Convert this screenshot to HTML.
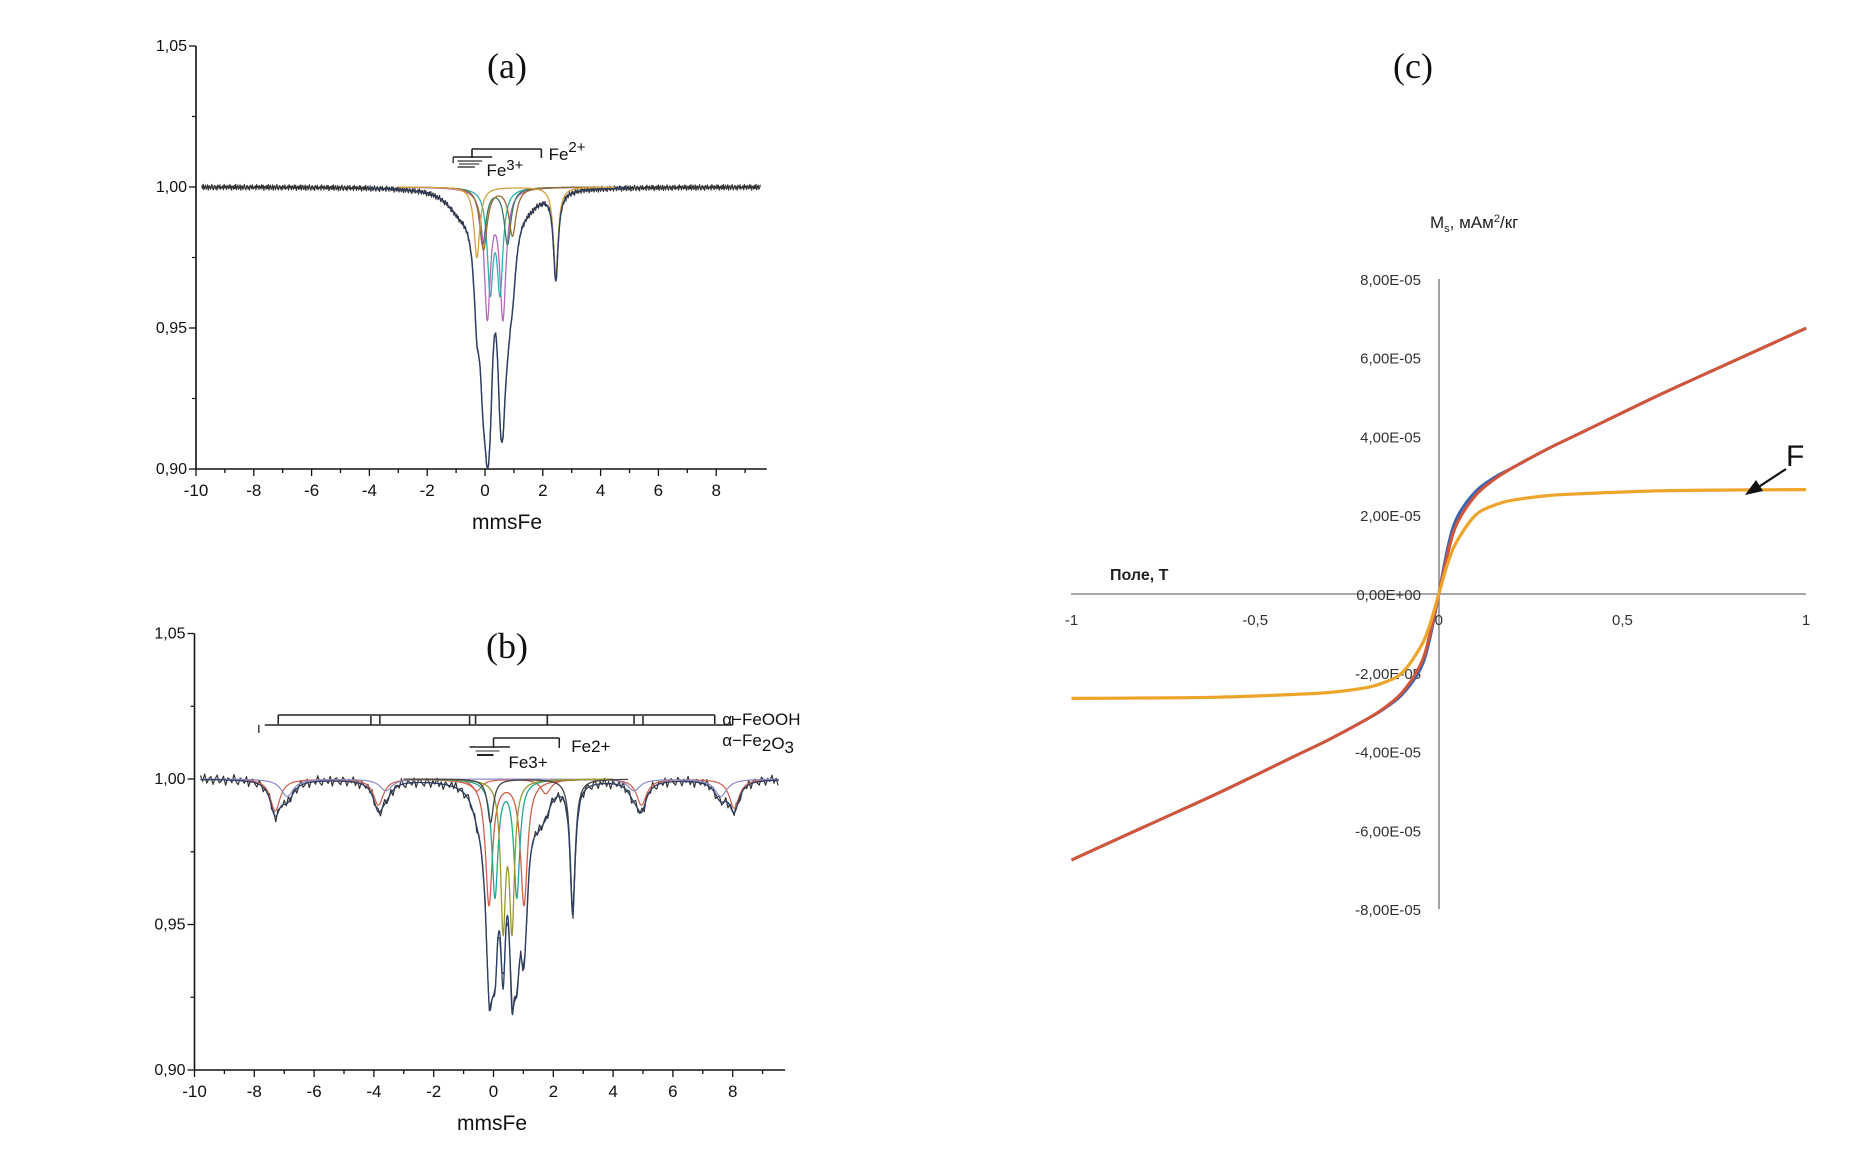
<!DOCTYPE html>
<html><head><meta charset="utf-8">
<style>
html,body{margin:0;padding:0;background:#fff;}
svg{display:block;}
</style></head>
<body>
<svg id="root" width="1873" height="1162" viewBox="0 0 1873 1162" xmlns="http://www.w3.org/2000/svg" font-family="Liberation Sans, sans-serif">
<g id="pa"></g>
<g id="pb"></g>
<g id="pc"></g>
</svg>
<script>
// ---------- Panel (a) data: Lorentzian components [position mm/s, depth, hwhm] ----------
const aMagenta=[[0.08,0.045,0.13],[0.62,0.045,0.13]];
const aCyan=[[0.18,0.035,0.12],[0.52,0.035,0.12]];
const aGreen=[[-0.08,0.02,0.14],[0.78,0.02,0.14]];
const aBrown=[[-0.05,0.022,0.15],[0.95,0.017,0.15]];
const aOrange=[[-0.28,0.025,0.12],[2.45,0.031,0.1]];
const aHidden=[[-0.3,0.005,0.3],[0.95,0.005,0.3],[1.5,0.004,0.5],[-0.9,0.006,0.5]];
// ---------- Panel (b) components ----------
const bHematite=[[-7.3,0.011,0.2],[-3.85,0.009,0.2],[-0.55,0.004,0.2],[1.75,0.005,0.2],[4.95,0.009,0.2],[8.05,0.01,0.2]];
const bGoethite=[[-6.9,0.006,0.25],[-3.6,0.004,0.25],[4.7,0.004,0.25],[7.6,0.006,0.25]];
const bRed=[[-0.15,0.043,0.14],[1.02,0.043,0.14]];
const bTeal=[[0.05,0.04,0.12],[0.78,0.04,0.12]];
const bOlive=[[0.32,0.049,0.1],[0.62,0.049,0.1]];
const bFe2=[[-0.1,0.015,0.12],[2.65,0.045,0.1]];
const bHidden=[[-0.3,0.006,0.3],[1.0,0.006,0.3],[1.5,0.008,0.25]];
// experimental residual pattern (x0.001)
const noiseA=[0.6,-0.4,0.9,-0.8,0.2,0.7,-0.6,-0.2,0.8,-0.9,0.3,0.5,-0.7,0.1,0.9,-0.3,-0.8,0.4,0.6,-0.5,0.2,-0.9,0.7,0.3,-0.4,0.8,-0.6,0.1,-0.2,0.5,-0.8,0.9,-0.1,0.4,-0.7,0.6,0.0,-0.5,0.8,-0.3,0.7,-0.9,0.2,0.4,-0.6];
const noiseB=[1.4,-0.6,1.9,-1.2,0.4,1.1,-1.6,0.3,1.6,-1.0,-0.4,1.3,-1.8,0.7,0.4,-0.9,2.0,-0.5,-1.4,0.9,0.2,-0.8,1.6,-1.7,0.6,1.1,-0.4,-1.2,1.4,0.5,-1.5,0.8,-0.3,1.8,-1.0,0.7,-1.8,1.0,0.1,-0.6];
// ---------- Panel (c) data ----------
const cField=[-1,-0.8,-0.6,-0.4,-0.3,-0.2,-0.15,-0.1,-0.05,-0.025,0,0.025,0.05,0.1,0.15,0.2,0.3,0.4,0.6,0.8,1];
const cRed=[-6.75,-5.9,-5.05,-4.15,-3.7,-3.2,-2.9,-2.5,-1.8,-1.05,0,1.05,1.8,2.5,2.9,3.2,3.7,4.15,5.05,5.9,6.75];
const cBlue=[-6.75,-5.9,-5.05,-4.15,-3.7,-3.2,-2.92,-2.55,-1.9,-1.15,0,1.2,1.95,2.6,2.95,3.2,3.7,4.15,5.05,5.9,6.75];
const cOrange=[-2.65,-2.64,-2.62,-2.55,-2.5,-2.38,-2.25,-2.0,-1.35,-0.8,0,0.8,1.35,2.0,2.25,2.38,2.5,2.55,2.62,2.64,2.65];
const cYTicks=["8,00E-05","6,00E-05","4,00E-05","2,00E-05","0,00E+00","-2,00E-05","-4,00E-05","-6,00E-05","-8,00E-05"];
const cYVals=[8,6,4,2,0,-2,-4,-6,-8];
const cXTicks=["-1","-0,5","0","0,5","1"];
const cXVals=[-1,-0.5,0,0.5,1];

const NS="http://www.w3.org/2000/svg";
function mk(parent,tag,attrs,txt){const e=document.createElementNS(NS,tag);for(const k in attrs)e.setAttribute(k,attrs[k]);if(txt!==undefined)e.textContent=txt;parent.appendChild(e);return e;}
function lor(comps,x){let s=0;for(const c of comps){const d=(x-c[0])/c[2];s+=c[1]/(1+d*d);}return s;}

function moss(g,X,Y,opts){
  let a=mk(g,'line',{x1:X(-10),y1:Y(1.05),x2:X(-10),y2:Y(0.9),stroke:'#111','stroke-width':1.6});
  
  a=mk(g,'line',{x1:X(-10),y1:Y(0.9),x2:X(9.75),y2:Y(0.9),stroke:'#111','stroke-width':1.6});
  
  for(let v=-10;v<=9;v++){const maj=v%2===0;
    mk(g,'line',{x1:X(v),y1:Y(0.9),x2:X(v),y2:Y(0.9)+(maj?7:4),stroke:'#111','stroke-width':1.3});
    if(maj){const t=mk(g,'text',{x:X(v),y:Y(0.9)+27,'text-anchor':'middle','font-size':17,fill:'#111'},String(v));
      }}
  const yl=[1.05,1.0,0.95,0.9],ys=["1,05","1,00","0,95","0,90"];
  for(let i=0;i<4;i++){mk(g,'line',{x1:X(-10)-7,y1:Y(yl[i]),x2:X(-10),y2:Y(yl[i]),stroke:'#111','stroke-width':1.3});
    const t=mk(g,'text',{x:X(-10)-9,y:Y(yl[i])+5,'text-anchor':'end','font-size':16,fill:'#111'},ys[i]);
    }
  for(const m of [1.025,0.975,0.925])mk(g,'line',{x1:X(-10)-4,y1:Y(m),x2:X(-10),y2:Y(m),stroke:'#111','stroke-width':1.2});
  let t=mk(g,'text',{x:opts.labX,y:Y(0.9)+60,'text-anchor':'middle','font-size':21,fill:'#111'},'mmsFe');
  
  t=mk(g,'text',{x:opts.titleX,y:opts.titleY,'text-anchor':'middle','font-size':36,fill:'#111',style:'font-family:"Liberation Serif",serif'},opts.title);
  
}
function curve(g,X,Y,fn,x0,x1,step,color,w,name){
  let d='';for(let x=x0,i=0;x<=x1;x+=step,i++){d+=(i?'L':'M')+X(x).toFixed(1)+','+Y(fn(x,i)).toFixed(1);}
  const p=mk(g,'path',{d:d,fill:'none',stroke:color,'stroke-width':w,'stroke-linejoin':'round'});
  return p;
}
function bracket(g,x1,x2,y,ticks,dir,w){
  mk(g,'line',{x1:x1,y1:y,x2:x2,y2:y,stroke:'#222','stroke-width':w||1.5});
  for(const t of ticks)mk(g,'line',{x1:t,y1:y,x2:t,y2:y+dir,stroke:'#222','stroke-width':w||1.5});
}

// ----- Panel (a) -----
(function(){
  const g=document.getElementById('pa');
  const X=v=>196+(v+10)*28.9, Y=t=>187+(1-t)/0.05*141;
  moss(g,X,Y,{title:'(a)',titleX:507,titleY:78,labX:507});
  const all=[aMagenta,aCyan,aGreen,aBrown,aOrange,aHidden];
  const tot=x=>{let s=0;for(const c of all)s+=lor(c,x);return 1-s;};
  curve(g,X,Y,(x,i)=>tot(x)+noiseA[i%noiseA.length]*0.0011,-9.8,9.55,0.025,'#333',1.2,'experimental-spectrum');
  curve(g,X,Y,x=>1-lor(aMagenta,x),-3,4,0.01,'#b46ab8',1.3,'fe3-doublet-1');
  curve(g,X,Y,x=>1-lor(aCyan,x),-3,4,0.01,'#2fb0b0',1.3,'fe3-doublet-2');
  curve(g,X,Y,x=>1-lor(aGreen,x),-3,4,0.01,'#3a7a60',1.3,'fe3-doublet-3');
  curve(g,X,Y,x=>1-lor(aBrown,x),-3,4,0.01,'#9a6a2a',1.3,'fe3-doublet-4');
  curve(g,X,Y,x=>1-lor(aOrange,x),-3,4.5,0.01,'#d6a040',1.3,'fe2-doublet');
  curve(g,X,Y,tot,-4,5,0.01,'#2d3f66',1.4,'fit-envelope');
  bracket(g,X(-0.45),X(1.95),149,[X(-0.45),X(1.95)],9,1.6);
  mk(g,'line',{x1:X(-1.1),y1:157,x2:X(0.25),y2:157,stroke:'#222','stroke-width':1.5});
  mk(g,'line',{x1:X(-1.1),y1:157,x2:X(-1.1),y2:163,stroke:'#222','stroke-width':1.3});
  mk(g,'line',{x1:X(-0.95),y1:161,x2:X(-0.1),y2:161,stroke:'#555','stroke-width':1.5});
  mk(g,'line',{x1:X(-0.9),y1:164,x2:X(-0.2),y2:164,stroke:'#666','stroke-width':1.5});
  mk(g,'line',{x1:X(-0.95),y1:167,x2:X(-0.35),y2:167,stroke:'#444','stroke-width':1.5});
  let t=mk(g,'text',{x:X(2.2),y:160,'font-size':17,fill:'#111'});t.innerHTML='Fe<tspan dy="-8" font-size="15">2+</tspan>';
  
  t=mk(g,'text',{x:X(0.05),y:176,'font-size':17,fill:'#111'});t.innerHTML='Fe<tspan dy="-6" font-size="15">3+</tspan>';
  
})();

// ----- Panel (b) -----
(function(){
  const g=document.getElementById('pb');
  const X=v=>194.5+(v+10)*29.9, Y=t=>779+(1-t)/0.05*145.5;
  moss(g,X,Y,{title:'(b)',titleX:507,titleY:658,labX:492});
  const all=[bHematite,bGoethite,bRed,bTeal,bOlive,bFe2,bHidden];
  const tot=x=>{let s=0;for(const c of all)s+=lor(c,x);return 1-s;};
  curve(g,X,Y,(x,i)=>tot(x)+noiseB[i%noiseB.length]*0.001,-9.8,9.55,0.07,'#333',1.2,'experimental-spectrum');
  curve(g,X,Y,x=>1-lor(bHematite,x),-9.8,9.55,0.02,'#d0604a',1.2,'hematite-sextet');
  curve(g,X,Y,x=>1-lor(bGoethite,x),-9.8,9.55,0.02,'#8a8ac8',1.2,'goethite-sextet');
  curve(g,X,Y,x=>1-lor(bRed,x),-3,4,0.01,'#d0604a',1.3,'fe3-doublet-1');
  curve(g,X,Y,x=>1-lor(bTeal,x),-3,4,0.01,'#22a890',1.3,'fe3-doublet-2');
  curve(g,X,Y,x=>1-lor(bOlive,x),-3,4,0.01,'#9a9a30',1.3,'fe3-doublet-3');
  curve(g,X,Y,x=>1-lor(bFe2,x),-3,4.5,0.01,'#444',1.3,'fe2-doublet');
  curve(g,X,Y,tot,-9.8,9.55,0.02,'#2d3f66',1.3,'fit-envelope');
  bracket(g,X(-7.2),X(7.4),715,[X(-7.2),X(-3.8),X(-0.6),X(1.8),X(4.7),X(7.4)],9,1.5);
  bracket(g,X(-7.65),X(8.0),725,[X(-4.1),X(-0.8),X(1.8),X(5.0),X(8.0)],-9,1.5);
  mk(g,'line',{x1:X(-7.85),y1:725,x2:X(-7.85),y2:733,stroke:'#222','stroke-width':1.3});
  bracket(g,X(0),X(2.2),738,[X(0),X(2.2)],10,1.5);
  mk(g,'line',{x1:X(-0.8),y1:747,x2:X(0.55),y2:747,stroke:'#222','stroke-width':1.5});
  mk(g,'line',{x1:X(-0.6),y1:751,x2:X(0.2),y2:751,stroke:'#777','stroke-width':1.5});
  mk(g,'line',{x1:X(-0.55),y1:755,x2:X(0.0),y2:755,stroke:'#222','stroke-width':2});
  let t=mk(g,'text',{x:X(7.65),y:725,'font-size':17,fill:'#111'},'α−FeOOH');
  
  t=mk(g,'text',{x:X(7.65),y:746,'font-size':17,fill:'#111'});t.innerHTML='α−Fe<tspan dy="5">2</tspan><tspan dy="-2">O</tspan><tspan dy="4">3</tspan>';
  
  t=mk(g,'text',{x:X(2.6),y:752,'font-size':17,fill:'#111'},'Fe2+');
  
  t=mk(g,'text',{x:X(0.5),y:768,'font-size':17,fill:'#111'},'Fe3+');
  
})();

// ----- Panel (c) -----
(function(){
  const g=document.getElementById('pc');
  const X=h=>1438.8+h*367.3, Y=m=>594-m*39.4;
  let e=mk(g,'line',{x1:1071,y1:594,x2:1806,y2:594,stroke:'#8a8a8a','stroke-width':1.6});
  
  e=mk(g,'line',{x1:1439,y1:279,x2:1439,y2:909,stroke:'#8a8a8a','stroke-width':1.6});
  
  for(let i=0;i<cYVals.length;i++){const t=mk(g,'text',{x:1421,y:Y(cYVals[i])+6,'text-anchor':'end','font-size':15,fill:'#333'},cYTicks[i]);
    }
  for(let i=0;i<cXVals.length;i++){const t=mk(g,'text',{x:X(cXVals[i]),y:625,'text-anchor':'middle','font-size':15,fill:'#333'},cXTicks[i]);
    }
  function spline(xs,ys){let d='M'+X(xs[0]).toFixed(1)+','+Y(ys[0]).toFixed(1);
    for(let i=0;i<xs.length-1;i++){const p0=[X(xs[Math.max(i-1,0)]),Y(ys[Math.max(i-1,0)])],p1=[X(xs[i]),Y(ys[i])],p2=[X(xs[i+1]),Y(ys[i+1])],p3=[X(xs[Math.min(i+2,xs.length-1)]),Y(ys[Math.min(i+2,xs.length-1)])];
      const c1=[p1[0]+(p2[0]-p0[0])/6,p1[1]+(p2[1]-p0[1])/6],c2=[p2[0]-(p3[0]-p1[0])/6,p2[1]-(p3[1]-p1[1])/6];
      d+='C'+c1.map(v=>v.toFixed(1)).join(',')+' '+c2.map(v=>v.toFixed(1)).join(',')+' '+p2.map(v=>v.toFixed(1)).join(',');}
    return d;}
  let p=mk(g,'path',{d:spline(cField,cBlue),fill:'none',stroke:'#3a63b0','stroke-width':3});
  
  p=mk(g,'path',{d:spline(cField,cRed),fill:'none',stroke:'#d2553a','stroke-width':3});
  
  p=mk(g,'path',{d:spline(cField,cOrange),fill:'none',stroke:'#eda42a','stroke-width':3.2});
  
  let t=mk(g,'text',{x:1110,y:580,'font-size':16,'font-weight':'bold',fill:'#222'},'Поле, Т');
  
  t=mk(g,'text',{x:1430,y:228,'font-size':17,fill:'#222'});t.innerHTML='M<tspan dy="4" font-size="11">s</tspan><tspan dy="-4">, мАм</tspan><tspan dy="-6" font-size="11">2</tspan><tspan dy="6">/кг</tspan>';
  
  t=mk(g,'text',{x:1413,y:78,'text-anchor':'middle','font-size':36,fill:'#111',style:'font-family:"Liberation Serif",serif'},'(c)');
  
  t=mk(g,'text',{x:1786,y:466,'font-size':30,fill:'#111',style:'font-family:"Liberation Sans Narrow","Liberation Sans",sans-serif'},'F');
  
  mk(g,'line',{x1:1786,y1:469,x2:1757,y2:488,stroke:'#111','stroke-width':2.2});
  const ar=mk(g,'polygon',{points:'1745,495 1756,480 1763,491',fill:'#111'});
  
})();
</script>
</body></html>
